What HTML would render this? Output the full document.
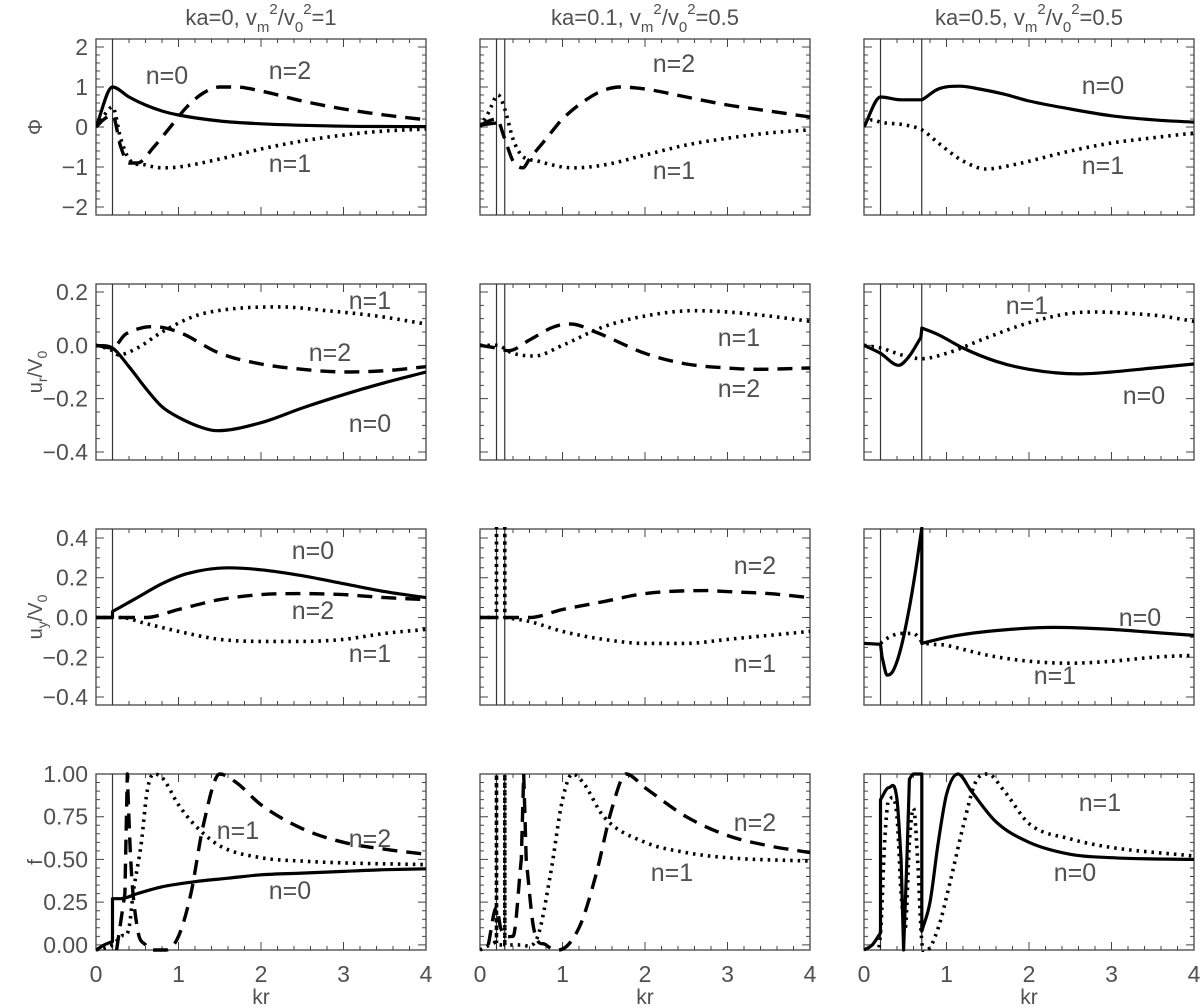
<!DOCTYPE html>
<html><head><meta charset="utf-8"><style>
html,body{margin:0;padding:0;background:#fff;overflow:hidden;width:1200px;height:1008px}
svg{display:block}
svg text{font-family:"Liberation Sans",sans-serif;fill:#505050}
</style></head><body>
<svg id="c" width="1200" height="1008" viewBox="0 0 1200 1008" xmlns="http://www.w3.org/2000/svg"></svg>
<script>
// ---- data: [kr, value] pairs ----
const phi1_n0=[[0,0],[0.2,1],[0.4,0.75],[0.6,0.55],[0.8,0.4],[1,0.3],[1.5,0.15],[2,0.08],[3,0.02],[4,0.01]];
const phi1_n1=[[0,0],[0.1,0.3],[0.2,0.5],[0.3,-0.3],[0.4,-0.8],[0.6,-0.95],[0.8,-1.02],[1,-1.0],[1.5,-0.8],[2,-0.55],[2.5,-0.35],[3,-0.2],[3.5,-0.1],[4,-0.05]];
const phi1_n2=[[0,0],[0.1,0.2],[0.2,0.3],[0.3,-0.5],[0.4,-0.9],[0.5,-0.9],[0.7,-0.5],[0.9,0],[1.1,0.5],[1.3,0.85],[1.5,1.0],[1.7,1.0],[2,0.9],[2.5,0.65],[3,0.45],[3.5,0.3],[4,0.18]];
const phi2_n0=[[0,0.05],[0.2,0.1]];
const phi2_n1=[[0,0],[0.1,0.35],[0.22,0.8],[0.3,0.45],[0.4,-0.3],[0.5,-0.7],[0.7,-0.85],[1,-1.0],[1.14,-1.02],[1.5,-0.95],[2,-0.7],[2.5,-0.45],[3,-0.28],[3.5,-0.15],[4,-0.07]];
const phi2_n2=[[0,0.05],[0.2,0.2],[0.3,-0.3],[0.4,-0.85],[0.52,-1.02],[0.6,-0.8],[0.8,-0.3],[1,0.2],[1.3,0.7],[1.5,0.92],[1.7,1.0],[2,0.95],[2.5,0.75],[3,0.55],[3.5,0.4],[4,0.25]];
const phi3_n0=[[0,0],[0.2,0.75],[0.45,0.68],[0.7,0.68],[0.72,0.7],[0.9,0.95],[1.16,1.02],[1.4,0.95],[1.7,0.82],[2,0.65],[2.5,0.45],[3,0.28],[3.5,0.18],[4,0.12]];
const phi3_n1=[[0,0.05],[0.1,0.18],[0.2,0.12],[0.5,0.05],[0.7,-0.07],[0.9,-0.4],[1.2,-0.85],[1.48,-1.05],[1.8,-0.95],[2.5,-0.6],[3,-0.4],[3.5,-0.27],[4,-0.15]];
const ur1_n0=[[0,0],[0.2,-0.01],[0.4,-0.08],[0.6,-0.16],[0.8,-0.23],[1,-0.27],[1.3,-0.31],[1.47,-0.32],[2,-0.29],[2.5,-0.235],[3,-0.185],[3.5,-0.14],[4,-0.1]];
const ur1_n1=[[0,0],[0.2,-0.02],[0.27,-0.036],[0.5,-0.01],[0.8,0.05],[1.2,0.11],[1.6,0.135],[2.23,0.144],[2.8,0.13],[3.4,0.11],[4,0.08]];
const ur1_n2=[[0,0],[0.2,-0.01],[0.35,0.04],[0.55,0.065],[0.7,0.07],[1,0.05],[1.5,-0.03],[2,-0.07],[2.5,-0.09],[3.05,-0.1],[3.5,-0.095],[4,-0.08]];
const ur2_n1=[[0,0],[0.2,0],[0.4,-0.03],[0.66,-0.04],[1,0.0],[1.5,0.07],[2,0.11],[2.6,0.13],[3,0.125],[3.5,0.11],[4,0.09]];
const ur2_n2=[[0,0],[0.2,-0.01],[0.35,-0.02],[0.6,0.02],[0.9,0.07],[1.1,0.08],[1.4,0.05],[2,-0.03],[2.5,-0.07],[3,-0.085],[3.37,-0.09],[4,-0.085]];
const ur3_n0=[[0,0],[0.2,-0.03],[0.42,-0.075],[0.55,-0.04],[0.69,0.03],[0.7,0.065],[0.9,0.04],[1.2,-0.01],[1.6,-0.06],[2,-0.09],[2.6,-0.107],[3,-0.1],[3.5,-0.085],[4,-0.07]];
const ur3_n1=[[0,0],[0.2,-0.01],[0.5,-0.04],[0.7,-0.05],[1,-0.03],[1.5,0.03],[2,0.085],[2.5,0.12],[2.8,0.125],[3.2,0.12],[3.6,0.11],[4,0.09]];
const uy1_n0=[[0,0],[0.2,0],[0.2,0.03],[0.5,0.1],[0.8,0.17],[1.1,0.22],[1.6,0.25],[2,0.24],[2.5,0.21],[3,0.17],[3.5,0.13],[4,0.1]];
const uy1_n1=[[0,0],[0.3,0],[0.6,-0.03],[1,-0.07],[1.5,-0.11],[2,-0.12],[2.5,-0.12],[3,-0.11],[3.5,-0.08],[4,-0.06]];
const uy1_n2=[[0,0],[0.3,0],[0.6,0.0],[1,0.04],[1.5,0.09],[2,0.115],[2.5,0.12],[3,0.115],[3.5,0.1],[4,0.09]];
const uy2_n1=[[0,0],[0.2,0],[0.2,0.45],[0.2,0],[0.3,0],[0.3,0.45],[0.3,0],[0.6,-0.02],[1,-0.07],[1.5,-0.11],[2,-0.13],[2.5,-0.13],[3,-0.11],[3.5,-0.09],[4,-0.07]];
const uy2_n2=[[0,0],[0.3,0],[0.6,0.0],[1,0.04],[1.5,0.08],[2,0.12],[2.75,0.135],[3,0.13],[3.5,0.12],[4,0.1]];
const uy3_n0=[[0,-0.13],[0.2,-0.135],[0.22,-0.2],[0.28,-0.29],[0.35,-0.27],[0.45,-0.15],[0.55,0.05],[0.63,0.25],[0.7,0.45],[0.7,-0.13],[1,-0.1],[1.5,-0.07],[2.3,-0.05],[3,-0.06],[3.5,-0.075],[4,-0.09]];
const uy3_n1=[[0.2,-0.13],[0.3,-0.1],[0.45,-0.08],[0.6,-0.08],[0.7,-0.12],[1,-0.14],[1.5,-0.19],[2,-0.22],[2.5,-0.23],[3,-0.22],[3.5,-0.2],[4,-0.19]];
const f1_n0=[[0,-0.03],[0.1,0],[0.2,0.02],[0.2,0.27],[0.3,0.27],[0.5,0.3],[0.8,0.34],[1.2,0.37],[1.6,0.39],[2,0.41],[2.5,0.42],[3,0.43],[3.5,0.44],[4,0.445]];
const f1_n1=[[0,-0.03],[0.2,0],[0.3,0.05],[0.4,0.1],[0.45,0.3],[0.55,0.6],[0.62,0.9],[0.7,1.0],[0.8,0.98],[1,0.82],[1.2,0.7],[1.5,0.58],[2,0.51],[2.5,0.49],[3,0.48],[4,0.47]];
const f1_n2=[[0.25,-0.03],[0.35,0.3],[0.38,1.0],[0.42,0.5],[0.5,0.1],[0.6,0.0],[0.7,-0.03],[0.85,-0.03],[1,0.05],[1.15,0.3],[1.3,0.7],[1.5,1.0],[1.7,0.95],[2,0.82],[2.5,0.68],[3,0.6],[3.5,0.56],[4,0.53]];
const f2_n1=[[0,-0.03],[0.2,0.02],[0.2,1.0],[0.2,0.0],[0.3,0],[0.3,1.0],[0.3,0],[0.5,0],[0.7,0.05],[0.85,0.4],[1,0.85],[1.12,1.0],[1.25,0.95],[1.5,0.75],[2,0.6],[2.5,0.54],[3,0.51],[4,0.49]];
const f2_n2=[[0.1,0.0],[0.2,0.22],[0.25,0.1],[0.4,0.05],[0.5,0.5],[0.53,1.0],[0.56,0.5],[0.65,0.1],[0.8,0.0],[0.95,-0.03],[1.2,0.1],[1.4,0.4],[1.6,0.8],[1.77,1.0],[2,0.92],[2.5,0.75],[3,0.64],[3.5,0.58],[4,0.54]];
const f3_n0=[[0,-0.03],[0.1,0],[0.2,0.07],[0.2,0.85],[0.3,0.92],[0.4,0.85],[0.45,0.5],[0.48,-0.03],[0.52,0.5],[0.55,0.97],[0.6,1.0],[0.7,1.0],[0.7,0.08],[0.8,0.25],[0.9,0.6],[1.0,0.88],[1.14,1.0],[1.3,0.9],[1.6,0.72],[2,0.6],[2.5,0.53],[3,0.51],[4,0.5]];
const f3_n1=[[0,-0.03],[0.2,0.07],[0.25,0.6],[0.3,0.85],[0.4,0.75],[0.45,0.3],[0.5,0.1],[0.55,0.6],[0.6,0.8],[0.65,0.5],[0.7,0.02],[0.76,-0.03],[0.9,0.1],[1.04,0.36],[1.2,0.69],[1.35,0.95],[1.5,1.0],[1.7,0.9],[2,0.71],[2.5,0.62],[3,0.57],[4,0.52]];
const xTicks=[0,1,2,3,4];
const phiTicks=[-2,-1,0,1,2];
const urTicks=[0.2,0.0,-0.2,-0.4];
const uyTicks=[0.4,0.2,0.0,-0.2,-0.4];
const fTicks=[0,0.25,0.5,0.75,1.0];
const colTitles=['ka=0, ','ka=0.1, ','ka=0.5, '];
const colRatio=['1','0.5','0.5'];
const vlines=[[0.2],[0.2,0.3],[0.2,0.7]];

const NS='http://www.w3.org/2000/svg';
const svg=document.getElementById('c');
function mk(tag,attrs,parent){const e=document.createElementNS(NS,tag);for(const k in attrs)e.setAttribute(k,attrs[k]);(parent||svg).appendChild(e);return e;}
const TH=2.5;
function smooth(P){
 const n=P.length;if(n<2)return '';
 const m=[];
 for(let i=0;i<n;i++){
  const dp=i>0?P[i][0]-P[i-1][0]:0, dn=i<n-1?P[i+1][0]-P[i][0]:0;
  const sp=i>0&&Math.abs(dp)>TH?(P[i][1]-P[i-1][1])/dp:null;
  const sn=i<n-1&&Math.abs(dn)>TH?(P[i+1][1]-P[i][1])/dn:null;
  if(sp===null&&sn===null)m.push(0);else if(sp===null)m.push(sn);else if(sn===null)m.push(sp);
  else if(sp*sn<=0)m.push(0);else m.push((sp+sn)/2);
 }
 let d='M'+P[0][0].toFixed(1)+','+P[0][1].toFixed(1);
 for(let i=0;i<n-1;i++){
  const dx=P[i+1][0]-P[i][0];
  if(Math.abs(dx)<=TH){d+='L'+P[i+1][0].toFixed(1)+','+P[i+1][1].toFixed(1);continue;}
  const c1=[P[i][0]+dx/3,P[i][1]+m[i]*dx/3],c2=[P[i+1][0]-dx/3,P[i+1][1]-m[i+1]*dx/3];
  d+='C'+c1[0].toFixed(1)+','+c1[1].toFixed(1)+' '+c2[0].toFixed(1)+','+c2[1].toFixed(1)+' '+P[i+1][0].toFixed(1)+','+P[i+1][1].toFixed(1);
 }
 return d;
}
const colX=[96,480,864], rowY=[39,284,529,774], W=330, H=176;
const rows=[
 {name:'phi',lo:-2.2,hi:2.2,ticks:phiTicks,minor:0.2,fmt:v=>v<0?'\u2212'+(-v):''+v,curves:[[['phi1_n0',phi1_n0,0],['phi1_n1',phi1_n1,1],['phi1_n2',phi1_n2,2]],[['phi2_n0',phi2_n0,0],['phi2_n1',phi2_n1,1],['phi2_n2',phi2_n2,2]],[['phi3_n0',phi3_n0,0],['phi3_n1',phi3_n1,1]]],
  labels:[[['n=0',167,75],['n=2',290,70],['n=1',290,163]],[['n=2',674,63],['n=1',674,170]],[['n=0',1103,85],['n=1',1103,165]]]},
 {name:'ur',lo:-0.43,hi:0.23,ticks:urTicks,minor:0.05,fmt:v=>(v<0?'\u2212':'')+Math.abs(v).toFixed(1),curves:[[['ur1_n0',ur1_n0,0],['ur1_n1',ur1_n1,1],['ur1_n2',ur1_n2,2]],[['ur2_n1',ur2_n1,1],['ur2_n2',ur2_n2,2]],[['ur3_n0',ur3_n0,0],['ur3_n1',ur3_n1,1]]],
  labels:[[['n=1',370,300],['n=2',330,352],['n=0',370,423]],[['n=1',739,337],['n=2',739,388]],[['n=1',1027,305],['n=0',1144,395]]]},
 {name:'uy',lo:-0.44,hi:0.445,ticks:uyTicks,minor:0.05,fmt:v=>(v<0?'\u2212':'')+Math.abs(v).toFixed(1),curves:[[['uy1_n0',uy1_n0,0],['uy1_n1',uy1_n1,1],['uy1_n2',uy1_n2,2]],[['uy2_n1',uy2_n1,1],['uy2_n2',uy2_n2,2]],[['uy3_n0',uy3_n0,0],['uy3_n1',uy3_n1,1]]],
  labels:[[['n=0',313,550],['n=2',313,610],['n=1',370,653]],[['n=2',755,565],['n=1',755,663]],[['n=0',1140,617],['n=1',1055,675]]]},
 {name:'f',lo:-0.03,hi:1.0,ticks:fTicks,minor:0.05,fmt:v=>v.toFixed(2),curves:[[['f1_n0',f1_n0,0],['f1_n1',f1_n1,1],['f1_n2',f1_n2,2]],[['f2_n1',f2_n1,1],['f2_n2',f2_n2,2]],[['f3_n0',f3_n0,0],['f3_n1',f3_n1,1]]],
  labels:[[['n=1',238,830],['n=2',370,838],['n=0',290,890]],[['n=2',755,822],['n=1',672,872]],[['n=1',1100,802],['n=0',1075,872]]]}
];
const styles=[{w:3.2,d:''},{w:3.6,d:'2.5 5'},{w:3.4,d:'15 9'}];
const defs=mk('defs',{});
rows.forEach((r,ri)=>{
 colX.forEach((x0,ci)=>{
  const y0=rowY[ri];
  const sx=v=>x0+v/4*W, sy=v=>y0+(r.hi-v)/(r.hi-r.lo)*H;
  const g=mk('g',{});
  
  
  const cp=mk('clipPath',{id:'cp'+ri+ci},defs);
  mk('rect',{x:x0,y:y0-2,width:W,height:H+4},cp);
  let t='';
  for(let k=0;k<=20;k++){const px=sx(k*0.2);const L=k%5==0?8:4;t+=`M${px},${y0+H}v${-L}M${px},${y0}v${L}`;}
  for(let v=Math.ceil(r.lo/r.minor-1e-9);v*r.minor<=r.hi+1e-9;v++){const val=v*r.minor;const major=r.ticks.some(q=>Math.abs(q-val)<1e-6);const L=major?8:4;const py=sy(val);t+=`M${x0},${py}h${L}M${x0+W},${py}h${-L}`;}
  const tk=mk('path',{d:t,stroke:'#444','stroke-width':1,fill:'none'},g);
  
  
  const fr=mk('rect',{x:x0,y:y0,width:W,height:H,fill:'none',stroke:'#444','stroke-width':1.3},g);
  
  
  vlines[ci].forEach(v=>{const l=mk('line',{x1:sx(v),x2:sx(v),y1:y0,y2:y0+H,stroke:'#333','stroke-width':1.2},g);
   
   });
  if(ci==0){
   r.ticks.forEach(v=>{const tx=mk('text',{x:x0-8,y:sy(v)+8,'text-anchor':'end','font-size':23},g);tx.textContent=r.fmt(v);
    
    });
  }
  if(ri==3){
   xTicks.forEach(v=>{const tx=mk('text',{x:sx(v),y:y0+H+32,'text-anchor':'middle','font-size':23},g);tx.textContent=v;
    
    });
  }
  r.curves[ci].forEach(([nm,pts,s])=>{
   const P=pts.map(p=>[sx(p[0]),sy(p[1])]);
   const pa=mk('path',{d:smooth(P),fill:'none',stroke:'#000','stroke-width':styles[s].w,'stroke-dasharray':styles[s].d,'stroke-linejoin':'round','clip-path':`url(#cp${ri}${ci})`},g);
   
   
  });
  r.labels[ci].forEach(([s,lx,ly])=>{const tx=mk('text',{x:lx,y:ly+9,'text-anchor':'middle','font-size':25},g);tx.textContent=s;
   
   });
 });
});
colX.forEach((x0,ci)=>{
 const tx=mk('text',{x:x0+W/2,y:25,'text-anchor':'middle','font-size':22});
 
 
 tx.innerHTML=colTitles[ci]+'v<tspan dy="7" font-size="15">m</tspan><tspan dy="-18" font-size="15">2</tspan><tspan dy="11">/v</tspan><tspan dy="7" font-size="15">0</tspan><tspan dy="-18" font-size="15">2</tspan><tspan dy="11">='+colRatio[ci]+'</tspan>';
});
const yt=[['\u03A6',127],['u<tspan dy="5" font-size="14">r</tspan><tspan dy="-5">/V</tspan><tspan dy="5" font-size="14">0</tspan>',372],['u<tspan dy="5" font-size="14">y</tspan><tspan dy="-5">/V</tspan><tspan dy="5" font-size="14">0</tspan>',617],['f',862]];
yt.forEach(([s,cy])=>{
 const tx=mk('text',{x:0,y:0,'text-anchor':'middle','font-size':20,transform:`translate(42,${cy}) rotate(-90)`});
 
 
 tx.innerHTML=s;
});
colX.forEach(x0=>{const tx=mk('text',{x:x0+W/2,y:1004,'text-anchor':'middle','font-size':21});tx.textContent='kr';
 
 });
</script>
</body></html>
